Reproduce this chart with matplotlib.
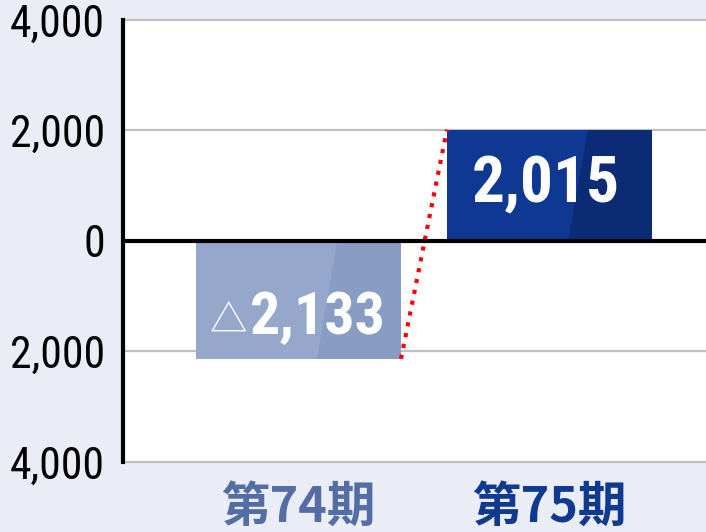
import matplotlib
matplotlib.use('Agg')
import matplotlib.pyplot as plt
from matplotlib.patches import Polygon
from matplotlib.ticker import FuncFormatter

# data
periods = ['第74期', '第75期']
values = [-2133, 2015]
value_labels = ['2,133', '2,015']
period_colors = ['#546ea5', '#0f3a8f']
bar_light = ['#95a8cb', '#0e3891']
bar_dark = ['#889cc4', '#0b2c75']
y_ticks = [-4000, -2000, 0, 2000, 4000]

bg = '#eaedf5'
num_font = ['Roboto Condensed', 'DejaVu Sans']
cjk_font = ['Noto Sans CJK JP', 'DejaVu Sans']

fig = plt.figure(figsize=(7.06, 5.32), dpi=100, facecolor=bg)
ax = fig.add_axes([0.1742, 0.1316, 0.8258, 0.8308])
ax.set_facecolor('white')

width = 0.817
x = list(range(len(values)))
ax.bar(x, values, width=width, color=bar_light, zorder=2)

# darker slanted right part of each bar
for i, v in enumerate(values):
    left = i - width / 2
    right = i + width / 2
    top, bottom = max(v, 0), min(v, 0)
    x_top = left + 0.69 * width
    x_bot = left + 0.59 * width
    ax.add_patch(Polygon([(x_top, top), (right, top), (right, bottom), (x_bot, bottom)],
                         closed=True, facecolor=bar_dark[i], edgecolor='none', zorder=2.1))

# red dotted connector: end of first bar -> end of second bar
ax.plot([x[0] + width / 2, x[1] - width / 2], [values[0], values[1]],
        color='red', linestyle=':', lw=3, zorder=3)

ax.axhline(0, color='black', lw=3, zorder=4)

ax.set_xlim(-0.699, 1.6235)
ax.set_ylim(-4000, 4000)
ax.set_yticks(y_ticks)
ax.yaxis.set_major_formatter(FuncFormatter(lambda v, p: f'{abs(int(v)):,}'))
for lbl in ax.get_yticklabels():
    lbl.set_fontfamily(num_font)
    lbl.set_fontsize(31.5)
ax.tick_params(axis='y', length=0, pad=13)

ax.set_xticks(x)
ax.set_xticklabels(periods, fontfamily=cjk_font, fontsize=35, fontweight='bold')
for lbl, c in zip(ax.get_xticklabels(), period_colors):
    lbl.set_color(c)
ax.tick_params(axis='x', length=0, pad=15)

for yv in y_ticks:
    if yv != 0:
        ax.axhline(yv, color='#c0c0c0', lw=1.6, zorder=1, clip_on=False)

for s in ['top', 'right', 'bottom']:
    ax.spines[s].set_visible(False)
ax.spines['left'].set_linewidth(3)
ax.spines['left'].set_zorder(5)

# value labels
ax.annotate(value_labels[0], xy=(x[0], values[0] / 2), xytext=(14, -24.8),
            textcoords='offset points', ha='center', va='baseline', color='white',
            fontsize=43, fontweight='bold', fontfamily=num_font, zorder=6)
ax.annotate('△', xy=(x[0], values[0] / 2), xytext=(-50, -23),
            textcoords='offset points', ha='center', va='baseline', color='white',
            fontsize=27, fontfamily=cjk_font, zorder=6)
ax.annotate(value_labels[1], xy=(x[1], values[1] / 2), xytext=(-2.5, -12.6),
            textcoords='offset points', ha='center', va='baseline', color='white',
            fontsize=47, fontweight='bold', fontfamily=num_font, zorder=6)

fig.savefig('out.png', dpi=100, facecolor=bg)
